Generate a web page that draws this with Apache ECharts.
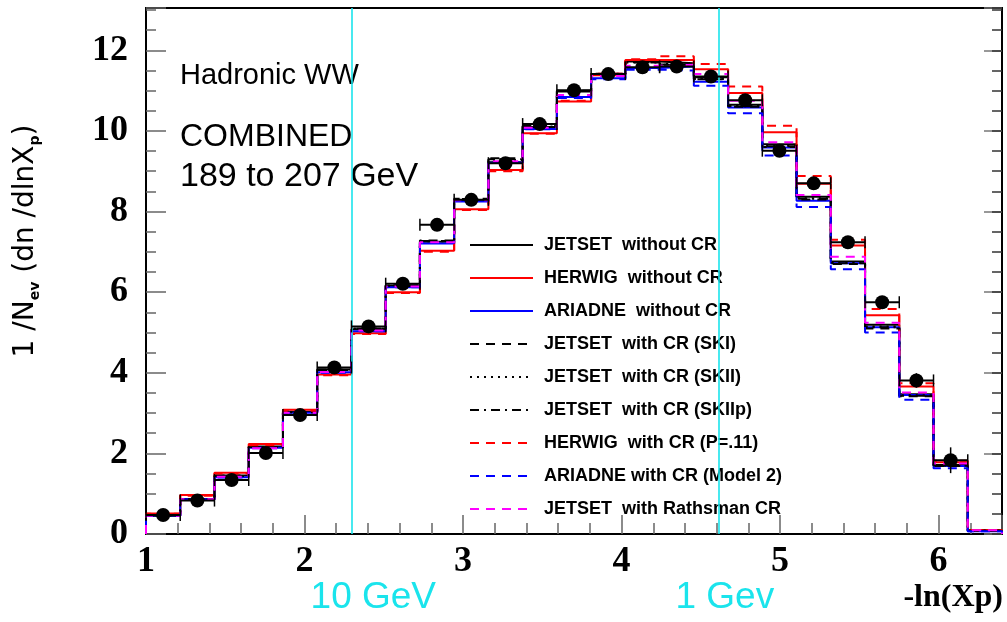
<!DOCTYPE html>
<html>
<head>
<meta charset="utf-8">
<script src="https://cdn.jsdelivr.net/npm/echarts@6/dist/echarts.min.js"></script>
<style>
  html, body { margin: 0; padding: 0; background: #ffffff; }
  #chart { width: 1007px; height: 622px; }
</style>
</head>
<body>
<div id="chart"></div>
<script>
// Binning of the -ln(Xp) histograms: 25 bins starting at 1.0
const binLow = 1.0;
const binWidth = 0.216;

const xTickLabels = ['1', '2', '3', '4', '5', '6'];
const yTickLabels = ['0', '2', '4', '6', '8', '10', '12'];

// Measured distribution (combined 189-207 GeV), one value per bin
const dataValues = [0.47, 0.83, 1.34, 2.01, 2.95, 4.13, 5.15, 6.21, 7.67, 8.29, 9.20, 10.17,
                    11.01, 11.41, 11.58, 11.60, 11.35, 10.76, 9.51, 8.70, 7.24, 5.75, 3.81, 1.83];
const dataErrors = [0.05, 0.05, 0.06, 0.06, 0.07, 0.08, 0.08, 0.09, 0.10, 0.10, 0.10, 0.10,
                    0.10, 0.10, 0.10, 0.10, 0.10, 0.10, 0.10, 0.12, 0.13, 0.15, 0.18, 0.32];

// Monte Carlo predictions
const jetsetNoCR = [0.46, 0.87, 1.45, 2.17, 3.03, 4.08, 5.08, 6.15, 7.25, 8.28, 9.22, 10.10,
                    10.98, 11.41, 11.72, 11.68, 11.33, 10.65, 9.67, 8.37, 6.76, 5.19, 3.47, 1.71, 0.08];
const herwigNoCR = [0.51, 0.97, 1.52, 2.23, 3.08, 3.96, 4.98, 6.00, 7.03, 8.06, 9.03, 9.94,
                    10.73, 11.38, 11.76, 11.76, 11.53, 10.94, 9.97, 8.69, 7.16, 5.43, 3.66, 1.78, 0.10];
const ariadneNoCR = [0.45, 0.86, 1.41, 2.14, 3.01, 4.01, 5.03, 6.12, 7.21, 8.25, 9.21, 10.05,
                     10.84, 11.31, 11.56, 11.60, 11.22, 10.58, 9.59, 8.27, 6.72, 5.13, 3.45, 1.69, 0.07];
const jetsetSKI = [0.46, 0.87, 1.45, 2.16, 3.03, 4.08, 5.10, 6.17, 7.28, 8.32, 9.32, 10.12,
                   11.00, 11.42, 11.70, 11.64, 11.28, 10.60, 9.60, 8.30, 6.70, 5.10, 3.42, 1.69, 0.08];
const jetsetSKII = [0.46, 0.86, 1.44, 2.16, 3.02, 4.07, 5.09, 6.16, 7.26, 8.30, 9.28, 10.10,
                    10.99, 11.42, 11.71, 11.66, 11.30, 10.62, 9.63, 8.33, 6.73, 5.15, 3.44, 1.70, 0.08];
const jetsetSKIIp = [0.46, 0.86, 1.44, 2.16, 3.02, 4.07, 5.09, 6.16, 7.27, 8.31, 9.30, 10.11,
                     10.99, 11.41, 11.70, 11.65, 11.29, 10.61, 9.62, 8.32, 6.72, 5.13, 3.43, 1.70, 0.08];
const herwigCR = [0.50, 0.95, 1.50, 2.20, 3.06, 3.94, 4.96, 5.98, 7.00, 8.04, 9.00, 9.93,
                  10.75, 11.42, 11.78, 11.85, 11.66, 11.10, 10.13, 8.88, 7.30, 5.58, 3.74, 1.82, 0.10];
const ariadneCR = [0.45, 0.85, 1.40, 2.13, 3.00, 4.00, 5.03, 6.12, 7.22, 8.26, 9.22, 10.04,
                   10.82, 11.28, 11.52, 11.50, 11.12, 10.44, 9.39, 8.11, 6.57, 5.00, 3.33, 1.63, 0.07];
const jetsetRathsman = [0.45, 0.86, 1.42, 2.13, 3.01, 4.02, 5.05, 6.14, 7.24, 8.28, 9.25, 10.08,
                        10.89, 11.36, 11.62, 11.64, 11.41, 10.75, 9.72, 8.41, 6.88, 5.24, 3.51, 1.75, 0.09];

// Momentum reference lines, -ln(p / E_beam) for 10 GeV and 1 GeV
const energyLines = [
  { label: '10 GeV', x: 2.303 },
  { label: '1 Gev', x: 4.605 }
];

const seriesNames = [
  'JETSET  without CR',
  'HERWIG  without CR',
  'ARIADNE  without CR',
  'JETSET  with CR (SKI)',
  'JETSET  with CR (SKII)',
  'JETSET  with CR (SKIIp)',
  'HERWIG  with CR (P=.11)',
  'ARIADNE with CR (Model 2)',
  'JETSET  with Rathsman CR'
];
const seriesValues = [jetsetNoCR, herwigNoCR, ariadneNoCR, jetsetSKI, jetsetSKII,
                      jetsetSKIIp, herwigCR, ariadneCR, jetsetRathsman];
const seriesColors = ['#000000', '#ff0000', '#0000ff', '#000000', '#000000',
                      '#000000', '#ff0000', '#0000ff', '#ff00ff'];
const seriesDash = ['solid', 'solid', 'solid', [9, 7], [2, 5], [9, 5, 2, 5],
                    [9, 7], [9, 7], [9, 7]];

function edge(i) { return binLow + i * binWidth; }

// Step outline of a histogram: rises from zero at the first edge, drops to zero at the last
function histogramPath(values) {
  const pts = [[edge(0), 0]];
  values.forEach((v, i) => pts.push([edge(i), v]));
  pts.push([edge(values.length), values[values.length - 1]]);
  pts.push([edge(values.length), 0]);
  return pts;
}

const chart = echarts.init(document.getElementById('chart'), null, { renderer: 'canvas' });

const series = seriesNames.map((name, k) => ({
  name: name,
  type: 'line',
  step: 'end',
  symbol: 'none',
  silent: true,
  z: 3,
  data: histogramPath(seriesValues[k]),
  lineStyle: { color: seriesColors[k], width: 2, type: seriesDash[k] },
  itemStyle: { color: seriesColors[k] }
}));

// Vertical cyan lines at fixed momenta
series.push({
  name: 'energy lines',
  type: 'line',
  data: [],
  silent: true,
  z: 5,
  markLine: {
    silent: true,
    symbol: 'none',
    label: { show: false },
    lineStyle: { color: '#1ae4ec', width: 1.6, type: 'solid' },
    data: energyLines.map(e => ({ xAxis: e.x }))
  }
});

// Horizontal bin-width bars with end caps, plus vertical statistical errors
series.push({
  name: 'data errors',
  type: 'custom',
  silent: true,
  z: 8,
  data: dataValues.map((v, i) => [edge(i), edge(i + 1), v, dataErrors[i]]),
  encode: { x: [0, 1], y: 2 },
  renderItem: function (params, api) {
    const lo = api.value(0), hi = api.value(1), y = api.value(2), e = api.value(3);
    const p0 = api.coord([lo, y]);
    const p1 = api.coord([hi, y]);
    const mid = (lo + hi) / 2;
    const pu = api.coord([mid, y + e]);
    const pd = api.coord([mid, y - e]);
    const st = { stroke: '#000', lineWidth: 2 };
    return {
      type: 'group',
      children: [
        { type: 'line', shape: { x1: p0[0], y1: p0[1], x2: p1[0], y2: p1[1] }, style: st },
        { type: 'line', shape: { x1: p0[0], y1: p0[1] - 6, x2: p0[0], y2: p0[1] + 6 }, style: { stroke: '#000', lineWidth: 1.5 } },
        { type: 'line', shape: { x1: p1[0], y1: p1[1] - 6, x2: p1[0], y2: p1[1] + 6 }, style: { stroke: '#000', lineWidth: 1.5 } },
        { type: 'line', shape: { x1: pu[0], y1: pu[1], x2: pd[0], y2: pd[1] }, style: { stroke: '#000', lineWidth: 1.5 } }
      ]
    };
  }
});

series.push({
  name: 'data',
  type: 'scatter',
  silent: true,
  z: 9,
  symbol: 'circle',
  symbolSize: 14,
  itemStyle: { color: '#000', opacity: 1 },
  data: dataValues.map((v, i) => [edge(i) + binWidth / 2, v])
});

const tickLabelFont = { fontFamily: 'Liberation Serif', fontWeight: 'bold', fontSize: 36, color: '#000' };

const option = {
  animation: false,
  backgroundColor: '#ffffff',
  grid: { left: 146, right: 5, top: 8, bottom: 88, show: true, borderColor: '#000', borderWidth: 2, backgroundColor: 'transparent' },
  legend: {
    orient: 'vertical',
    left: 464,
    top: 230,
    itemWidth: 63,
    itemHeight: 14,
    itemGap: 13,
    selectedMode: false,
    data: seriesNames,
    itemStyle: { opacity: 0 },
    textStyle: { fontFamily: 'Liberation Sans', fontWeight: 'bold', fontSize: 18, lineHeight: 20, color: '#000', padding: [0, 0, 0, 6] }
  },
  xAxis: [
    {
      type: 'value', min: 1, max: 6.4, interval: 1, position: 'bottom',
      axisLine: { show: true, onZero: false, lineStyle: { color: '#000', width: 2 } },
      axisTick: { show: true, inside: true, length: 19, lineStyle: { color: '#666', width: 1.5 } },
      axisLabel: Object.assign({ margin: 10, formatter: v => xTickLabels.includes(String(v)) ? String(v) : '' }, tickLabelFont),
      splitLine: { show: false }
    },
    {
      type: 'value', min: 1, max: 6.4, interval: 0.2, position: 'bottom',
      axisLine: { show: false },
      axisTick: { show: true, inside: true, length: 11, lineStyle: { color: '#666', width: 1.5 } },
      axisLabel: { show: false },
      splitLine: { show: false }
    }
  ],
  yAxis: [
    {
      type: 'value', min: 0, max: 13.05, interval: 2, position: 'left',
      axisLine: { show: true, onZero: false, lineStyle: { color: '#000', width: 2 } },
      axisTick: { show: true, inside: true, length: 20, lineStyle: { color: '#666', width: 1.5 } },
      axisLabel: Object.assign({ margin: 18, formatter: v => yTickLabels.includes(String(v)) ? String(v) : '' }, tickLabelFont),
      splitLine: { show: false }
    },
    {
      type: 'value', min: 0, max: 13.05, interval: 0.5, position: 'left',
      axisLine: { show: false },
      axisTick: { show: true, inside: true, length: 10, lineStyle: { color: '#666', width: 1.5 } },
      axisLabel: { show: false },
      splitLine: { show: false }
    },
    {
      type: 'value', min: 0, max: 13.05, interval: 2, position: 'right',
      axisLine: { show: true, onZero: false, lineStyle: { color: '#000', width: 2 } },
      axisTick: { show: true, inside: true, length: 18, lineStyle: { color: '#777', width: 1.5 } },
      axisLabel: { show: false },
      splitLine: { show: false }
    },
    {
      type: 'value', min: 0, max: 13.05, interval: 0.5, position: 'right',
      axisLine: { show: false },
      axisTick: { show: true, inside: true, length: 10, lineStyle: { color: '#333', width: 1.5 } },
      axisLabel: { show: false },
      splitLine: { show: false }
    }
  ],
  series: series,
  graphic: [
    { type: 'text', left: 180, top: 61, style: { text: 'Hadronic WW', font: '29px "Liberation Sans"', fill: '#000' } },
    { type: 'text', left: 180, top: 121, style: { text: 'COMBINED', font: '32px "Liberation Sans"', fill: '#000' } },
    { type: 'text', left: 180, top: 160, style: { text: '189 to 207 GeV', font: '34px "Liberation Sans"', fill: '#000' } },
    {
      type: 'text', x: 26, y: 241, rotation: Math.PI / 2,
      style: {
        text: '{a|1 /N}{s|ev}{a| (dn /dlnX}{s|p}{a|)}',
        align: 'center', verticalAlign: 'middle',
        rich: {
          a: { fontFamily: 'DejaVu Sans', fontSize: 28, fill: '#000' },
          s: { fontFamily: 'DejaVu Sans', fontSize: 14, fontWeight: 'bold', fill: '#000', padding: [18, 0, 0, 0] }
        }
      }
    },
    { type: 'text', right: 4, top: 582, style: { text: '-ln(Xp)', font: 'bold 32px "Liberation Serif"', fill: '#000' } }
  ]
};

chart.setOption(option);

// Energy labels placed under their reference lines
const energyLabels = energyLines.map(e => {
  const px = chart.convertToPixel({ xAxisIndex: 0 }, e.x);
  return {
    type: 'text', x: px - 42, y: 598,
    style: { text: e.label, font: '37px "Liberation Sans"', fill: '#1ae4ec', verticalAlign: 'middle', align: 'left' }
  };
});
chart.setOption({ graphic: option.graphic.concat(energyLabels) });
</script>
</body>
</html>
